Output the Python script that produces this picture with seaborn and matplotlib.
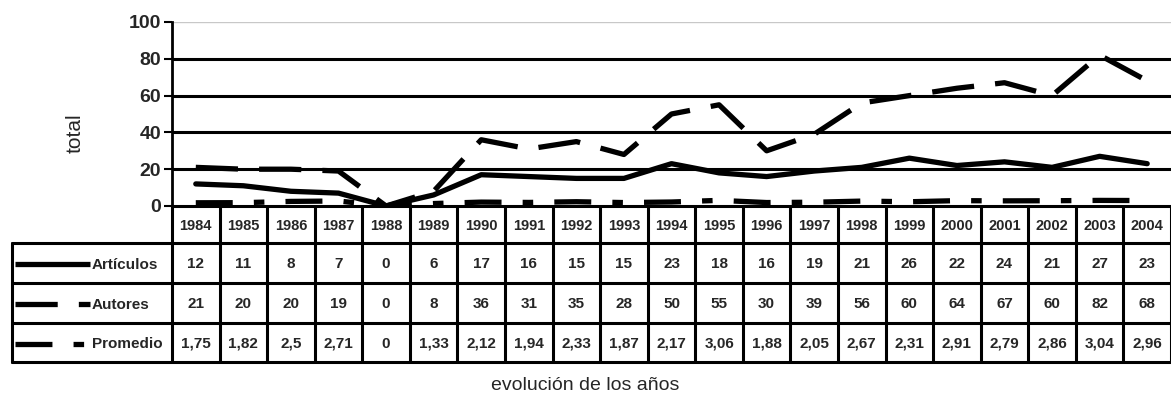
import matplotlib
matplotlib.use("Agg")
import matplotlib.pyplot as plt
import seaborn as sns
import pandas as pd
from matplotlib.lines import Line2D

years = ["1984", "1985", "1986", "1987", "1988", "1989", "1990", "1991", "1992", "1993", "1994",
         "1995", "1996", "1997", "1998", "1999", "2000", "2001", "2002", "2003", "2004"]
articulos = [12, 11, 8, 7, 0, 6, 17, 16, 15, 15, 23, 18, 16, 19, 21, 26, 22, 24, 21, 27, 23]
autores = [21, 20, 20, 19, 0, 8, 36, 31, 35, 28, 50, 55, 30, 39, 56, 60, 64, 67, 60, 82, 68]
promedio = [1.75, 1.82, 2.5, 2.71, 0, 1.33, 2.12, 1.94, 2.33, 1.87, 2.17, 3.06, 1.88, 2.05, 2.67,
            2.31, 2.91, 2.79, 2.86, 3.04, 2.96]
series_names = ["Artículos", "Autores", "Promedio"]
y_ticks = [0, 20, 40, 60, 80, 100]

sns.set_style("white")
FONT = ["Liberation Sans Narrow", "Liberation Sans", "DejaVu Sans"]
plt.rcParams["font.family"] = FONT

W, H = 1171, 405
fig = plt.figure(figsize=(W / 100, H / 100), dpi=100)

L, R, T, B = 172, 1171, 22, 206
ax = fig.add_axes([L / W, (H - B) / H, (R - L) / W, (B - T) / H])

rows = []
for name, vals in zip(series_names, [articulos, autores, promedio]):
    for i, v in enumerate(vals):
        rows.append({"idx": i, "valor": v, "serie": name})
df = pd.DataFrame(rows)

LW = 3.8
dashes = {"Artículos": "", "Autores": (8, 4), "Promedio": (7, 4, 2, 4)}
sns.lineplot(data=df, x="idx", y="valor", style="serie", dashes=dashes,
             color="black", linewidth=LW, legend=False, ax=ax, zorder=3)

ax.set_xlim(-0.5, len(years) - 0.5)
ax.set_ylim(0, 100)
ax.set_yticks(y_ticks)
ax.set_yticklabels([str(t) for t in y_ticks], fontsize=14, fontweight="bold")
ax.set_xticks([])
ax.set_xlabel("")
ax.set_ylabel("")
for t in y_ticks[1:-1]:
    ax.axhline(t, color="black", lw=2.2, zorder=1)
ax.axhline(100, color="#c8c8c8", lw=1, zorder=1)
for s in ["top", "right", "bottom"]:
    ax.spines[s].set_visible(False)
ax.spines["left"].set_color("black")
ax.spines["left"].set_linewidth(2)
ax.tick_params(axis="y", length=6, width=1.5, color="black", direction="out", pad=2, left=True)
ax.patch.set_alpha(0)

# Table overlay in pixel coordinates
tab = fig.add_axes([0, 0, 1, 1], zorder=-1)
tab.set_xlim(0, W)
tab.set_ylim(H, 0)
tab.axis("off")

n = len(years)
colw = (R - L) / n
row_y = [206, 243, 283, 323, 362]
TL = 12
lwt = 2.2
tab.plot([L, R], [row_y[0], row_y[0]], color="black", lw=lwt)
for y in row_y[1:]:
    tab.plot([TL, R], [y, y], color="black", lw=lwt)
tab.plot([TL, TL], [row_y[1], row_y[4]], color="black", lw=lwt)
for j in range(n + 1):
    x = L + j * colw
    tab.plot([x, x], [row_y[0], row_y[4]], color="black", lw=lwt)

for j, yr in enumerate(years):
    tab.text(L + (j + 0.5) * colw, (row_y[0] + row_y[1]) / 2 + 1, yr, ha="center", va="center",
             fontsize=10.5, fontweight="bold")

def fmt(v):
    return ("%g" % v).replace(".", ",")

for r, (name, vals) in enumerate(zip(series_names, [articulos, autores, promedio])):
    yc = (row_y[r + 1] + row_y[r + 2]) / 2 + 1
    for j, v in enumerate(vals):
        tab.text(L + (j + 0.5) * colw, yc, fmt(v), ha="center", va="center",
                 fontsize=11, fontweight="bold")
    key = Line2D([15, 90], [yc, yc], color="black", lw=LW, solid_capstyle="butt",
                 dash_capstyle="butt")
    if dashes[name]:
        key.set_dashes(dashes[name])
    tab.add_line(key)
    tab.text(92, yc + 1, name, ha="left", va="center", fontsize=11, fontweight="bold")

fig.text(585 / W, 1 - 385 / H, "evolución de los años", ha="center", va="center", fontsize=14)
fig.text(75 / W, 1 - 133 / H, "total", ha="center", va="center", fontsize=15, rotation=90)

fig.savefig("out.png", dpi=100)
